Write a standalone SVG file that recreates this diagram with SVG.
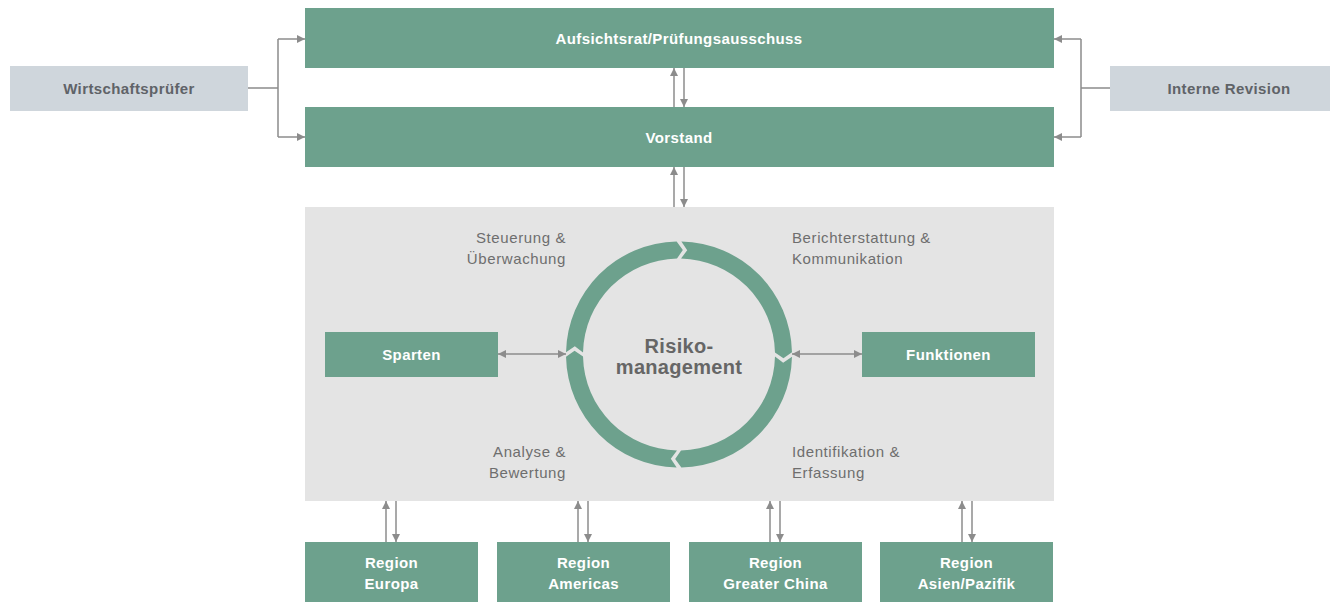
<svg xmlns="http://www.w3.org/2000/svg" xmlns:xlink="http://www.w3.org/1999/xlink" width="1330" height="602" viewBox="0 0 1330 602">
<style>
.g{fill:#6da18d}
.lb{fill:#cfd6dc}
.wt{font-family:"Liberation Sans",Arial,sans-serif;font-weight:bold;font-size:15px;fill:#ffffff;text-anchor:middle;letter-spacing:0.4px}
.dt{font-family:"Liberation Sans",Arial,sans-serif;font-weight:bold;font-size:15px;fill:#5f6368;text-anchor:middle;letter-spacing:0.4px}
.gt{font-family:"Liberation Sans",Arial,sans-serif;font-size:15px;fill:#6e6e6e;letter-spacing:0.6px}
.rt{font-family:"Liberation Sans",Arial,sans-serif;font-weight:bold;font-size:20px;fill:#666666;text-anchor:middle;letter-spacing:0.3px}
.ln{stroke:#8c8c8c;stroke-width:1.5;fill:none}
.ar{stroke:#8c8c8c;stroke-width:1.5;fill:none;marker-end:url(#ah)}
.ar2{stroke:#8c8c8c;stroke-width:1.5;fill:none;marker-end:url(#ah);marker-start:url(#ah)}
</style>
<defs>
<marker id="ah" viewBox="0 0 8 8" refX="8" refY="4" markerWidth="8" markerHeight="8" markerUnits="userSpaceOnUse" orient="auto-start-reverse">
<path d="M0,0 L8,4 L0,8 z" fill="#8c8c8c"/>
</marker>
<path id="seg" class="g" d="M566.02,352.13 A113,113 0 0 1 676.63,241.52 L682.83,250.07 L676.99,258.52 A96,96 0 0 0 583.02,352.49 L574.82,346.30 Z"/>
</defs>
<rect width="1330" height="602" fill="#ffffff"/>

<g id="panel"><rect x="305" y="207" width="749" height="294" fill="#e4e4e4"/></g>

<g id="aufsichtsrat"><rect class="g" x="305" y="8" width="749" height="60"/><text class="wt" x="679" y="44">Aufsichtsrat/Prüfungsausschuss</text></g>
<g id="vorstand"><rect class="g" x="305" y="107" width="749" height="60"/><text class="wt" x="679" y="143">Vorstand</text></g>
<g id="wirtschaftspruefer"><rect class="lb" x="10" y="66" width="238" height="45"/><text class="dt" x="129" y="94">Wirtschaftsprüfer</text></g>
<g id="interne-revision"><rect class="lb" x="1110" y="66" width="220" height="45"/><text class="dt" x="1229" y="94">Interne Revision</text></g>

<g id="risikomanagement">
<use xlink:href="#seg"/>
<use xlink:href="#seg" transform="rotate(90 679 354.5)"/>
<use xlink:href="#seg" transform="rotate(180 679 354.5)"/>
<use xlink:href="#seg" transform="rotate(270 679 354.5)"/>
<text class="rt" x="679" y="353">Risiko-</text>
<text class="rt" x="679" y="374">management</text>
</g>

<g id="labels">
<text class="gt" x="566" y="243" text-anchor="end">Steuerung &amp;</text>
<text class="gt" x="566" y="264" text-anchor="end">Überwachung</text>
<text class="gt" x="792" y="243">Berichterstattung &amp;</text>
<text class="gt" x="792" y="264">Kommunikation</text>
<text class="gt" x="566" y="457" text-anchor="end">Analyse &amp;</text>
<text class="gt" x="566" y="478" text-anchor="end">Bewertung</text>
<text class="gt" x="792" y="457">Identifikation &amp;</text>
<text class="gt" x="792" y="478">Erfassung</text>
</g>

<g id="sparten"><rect class="g" x="325" y="332" width="173" height="45"/><text class="wt" x="411.5" y="360">Sparten</text></g>
<g id="funktionen"><rect class="g" x="862" y="332" width="173" height="45"/><text class="wt" x="948.5" y="360">Funktionen</text></g>

<g id="region-europa"><rect class="g" x="305" y="542" width="173" height="60"/><text class="wt" x="391.5" y="568">Region</text><text class="wt" x="391.5" y="589">Europa</text></g>
<g id="region-americas"><rect class="g" x="497" y="542" width="173" height="60"/><text class="wt" x="583.5" y="568">Region</text><text class="wt" x="583.5" y="589">Americas</text></g>
<g id="region-greater-china"><rect class="g" x="689" y="542" width="173" height="60"/><text class="wt" x="775.5" y="568">Region</text><text class="wt" x="775.5" y="589">Greater China</text></g>
<g id="region-asien"><rect class="g" x="880" y="542" width="173" height="60"/><text class="wt" x="966.5" y="568">Region</text><text class="wt" x="966.5" y="589">Asien/Pazifik</text></g>

<g id="connectors">
<path class="ln" d="M248,88 H278 M278,39 V137"/>
<path class="ar" d="M278,39 H305"/>
<path class="ar" d="M278,137 H305"/>
<path class="ln" d="M1110,88 H1081 M1081,39 V137"/>
<path class="ar" d="M1081,39 H1054"/>
<path class="ar" d="M1081,137 H1054"/>
<path class="ar" d="M674,107 V68"/>
<path class="ar" d="M684,68 V107"/>
<path class="ar" d="M674,207 V167"/>
<path class="ar" d="M684,167 V207"/>
<path class="ar2" d="M498,354 H566"/>
<path class="ar2" d="M792,354 H862"/>
<path class="ar" d="M386,542 V501"/>
<path class="ar" d="M396,501 V542"/>
<path class="ar" d="M578,542 V501"/>
<path class="ar" d="M588,501 V542"/>
<path class="ar" d="M770,542 V501"/>
<path class="ar" d="M780,501 V542"/>
<path class="ar" d="M962,542 V501"/>
<path class="ar" d="M972,501 V542"/>
</g>
</svg>
